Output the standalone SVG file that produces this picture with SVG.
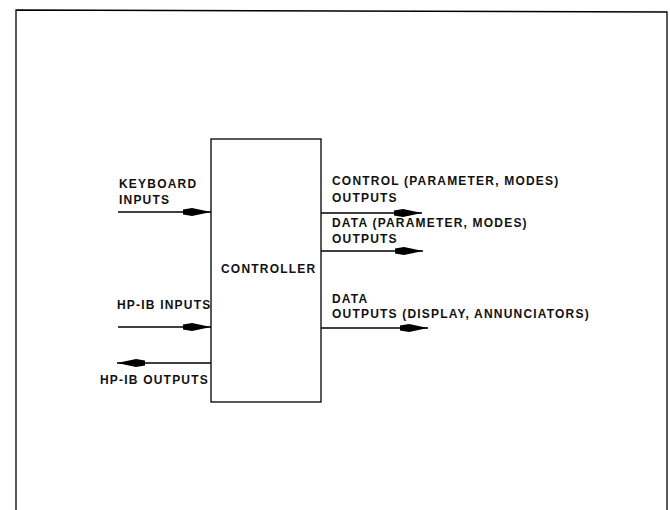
<svg xmlns="http://www.w3.org/2000/svg" width="670" height="510" viewBox="0 0 670 510">
<defs>
<marker id="ah" markerWidth="28" markerHeight="10" refX="28" refY="5" orient="auto" markerUnits="userSpaceOnUse">
<polygon points="0,2.5 9,1 28,5 9,9 0,7.5" fill="#000"/>
</marker>
</defs>
<style>
text{font-family:"Liberation Sans",Arial,sans-serif;font-size:12px;font-weight:bold;letter-spacing:1.2px;fill:#111;}
.ln{stroke:#000;stroke-width:1.3;fill:none;}
</style>
<rect width="670" height="510" fill="#fff"/>
<path class="ln" d="M16,512 L16,10 L667,12 L667,512" stroke-width="2"/>
<g id="controller">
<rect x="211" y="139" width="110" height="263" class="ln"/>
<text x="221" y="273">CONTROLLER</text>
</g>
<g id="keyboard">
<text x="119" y="188">KEYBOARD</text>
<text x="119" y="204">INPUTS</text>
</g>
<g id="hpib-in">
<text x="117" y="309">HP-IB INPUTS</text>
</g>
<g id="hpib-out">
<text x="100" y="384">HP-IB OUTPUTS</text>
</g>
<g id="control-out">
<text x="332" y="185">CONTROL (PARAMETER, MODES)</text>
<text x="332" y="202">OUTPUTS</text>
</g>
<g id="data-out">
<text x="332" y="227">DATA (PARAMETER, MODES)</text>
<text x="332" y="243">OUTPUTS</text>
</g>
<g id="display-out">
<text x="332" y="303">DATA</text>
<text x="332" y="318">OUTPUTS (DISPLAY, ANNUNCIATORS)</text>
</g>
<g id="connectors">
<line class="ln" x1="118" y1="212" x2="211" y2="212" marker-end="url(#ah)"/>
<line class="ln" x1="118" y1="327" x2="211" y2="327" marker-end="url(#ah)"/>
<line class="ln" x1="211" y1="363" x2="117" y2="363" marker-end="url(#ah)"/>
<line class="ln" x1="321" y1="213" x2="422" y2="213" marker-end="url(#ah)"/>
<line class="ln" x1="321" y1="251" x2="423" y2="251" marker-end="url(#ah)"/>
<line class="ln" x1="321" y1="328" x2="428" y2="328" marker-end="url(#ah)"/>
</g>
</svg>
